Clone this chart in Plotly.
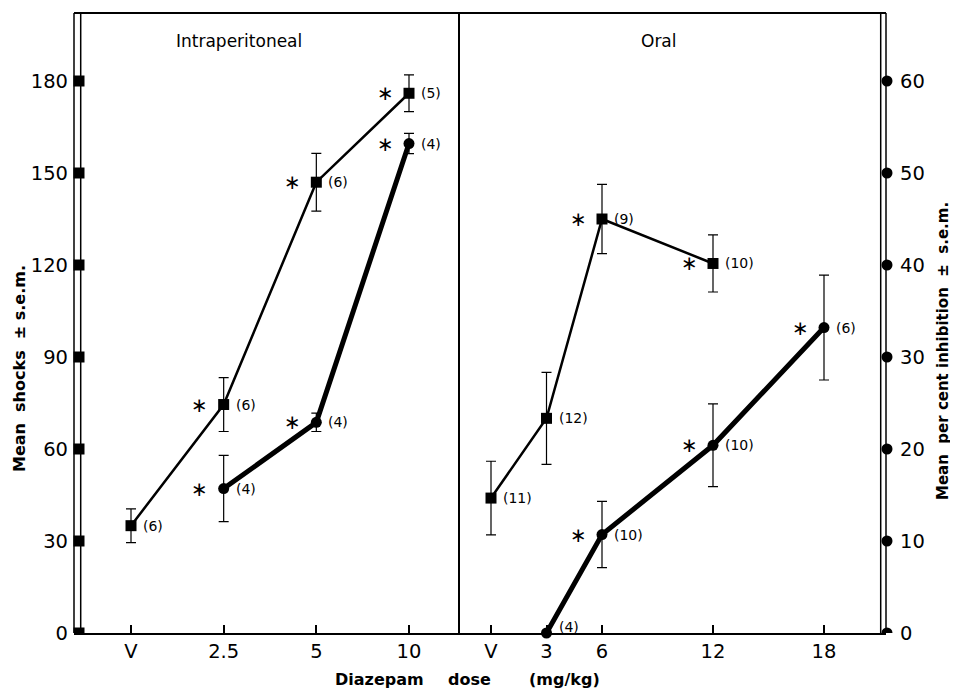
import plotly.graph_objects as go

# ---------------- data ----------------
# Intraperitoneal panel (equally spaced dose categories)
ip_doses = ["V", "2.5", "5", "10"]

ip_shock_doses = ["V", "2.5", "5", "10"]
ip_shock_mean = [35, 74.5, 147, 176]
ip_shock_sem = [5.5, 8.8, 9.4, 6]
ip_shock_n = ["(6)", "(6)", "(6)", "(5)"]
ip_shock_sig = [False, True, True, True]

ip_inhib_doses = ["2.5", "5", "10"]
ip_inhib_mean = [15.7, 22.9, 53.2]
ip_inhib_sem = [3.6, 1.0, 1.1]
ip_inhib_n = ["(4)", "(4)", "(4)"]
ip_inhib_sig = [True, True, True]

# Oral panel (linear dose scale, V = vehicle at 0)
oral_tick_vals = [0, 3, 6, 12, 18]
oral_tick_text = ["V", "3", "6", "12", "18"]

oral_shock_doses = [0, 3, 6, 12]
oral_shock_mean = [44, 70, 135, 120.5]
oral_shock_sem = [12, 15, 11.3, 9.3]
oral_shock_n = ["(11)", "(12)", "(9)", "(10)"]
oral_shock_sig = [False, False, True, True]

oral_inhib_doses = [3, 6, 12, 18]
oral_inhib_mean = [0, 10.7, 20.4, 33.2]
oral_inhib_sem = [0, 3.6, 4.5, 5.7]
oral_inhib_n = ["(4)", "(10)", "(10)", "(6)"]
oral_inhib_sig = [False, True, True, True]

shock_ticks = [0, 30, 60, 90, 120, 150, 180]
inhib_ticks = [0, 10, 20, 30, 40, 50, 60]

# ---------------- styling / layout geometry ----------------
FONT = "DejaVu Sans"
BLACK = "black"
OFF = 8                      # page body margin offset
W, H = 950, 683
# plot area in screenshot pixels: left 74, right 886, top 13, bottom 633
ML = 74 - OFF
MT = 13 - OFF
MR = W - (886 - OFF)
MB = H - (633 - OFF)
pw, ph = W - ML - MR, H - MT - MB


def px(x):
    return (x - OFF - ML) / pw


def py(y):
    return (H - MB - (y - OFF)) / ph


split = px(459)
ip_pos = {d: i for i, d in enumerate(ip_doses)}

fig = go.Figure()


def err(arr):
    return dict(type="data", array=arr, visible=True, color=BLACK, thickness=1.2, width=5)


fig.add_trace(go.Scatter(
    x=[ip_pos[d] for d in ip_shock_doses], y=ip_shock_mean, error_y=err(ip_shock_sem),
    mode="lines+markers", line=dict(color=BLACK, width=2.5),
    marker=dict(symbol="square", size=11, color=BLACK),
    xaxis="x", yaxis="y", showlegend=False, cliponaxis=False))
fig.add_trace(go.Scatter(
    x=[ip_pos[d] for d in ip_inhib_doses], y=ip_inhib_mean, error_y=err(ip_inhib_sem),
    mode="lines+markers", line=dict(color=BLACK, width=5),
    marker=dict(symbol="circle", size=11, color=BLACK),
    xaxis="x", yaxis="y2", showlegend=False, cliponaxis=False))
fig.add_trace(go.Scatter(
    x=oral_shock_doses, y=oral_shock_mean, error_y=err(oral_shock_sem),
    mode="lines+markers", line=dict(color=BLACK, width=2.5),
    marker=dict(symbol="square", size=11, color=BLACK),
    xaxis="x2", yaxis="y", showlegend=False, cliponaxis=False))
fig.add_trace(go.Scatter(
    x=oral_inhib_doses, y=oral_inhib_mean,
    error_y=err([s if s > 0 else None for s in oral_inhib_sem]),
    mode="lines+markers", line=dict(color=BLACK, width=5),
    marker=dict(symbol="circle", size=11, color=BLACK),
    xaxis="x2", yaxis="y2", showlegend=False, cliponaxis=False))

annotations = []


def label_points(xs, ys, ns, sigs, xref, yref):
    for x, y, n, s in zip(xs, ys, ns, sigs):
        yshift = 6 if y == 0 else 0
        annotations.append(dict(x=x, y=y, xref=xref, yref=yref, text=n, showarrow=False,
                                xanchor="left", xshift=10, yshift=yshift,
                                font=dict(family=FONT, size=14, color=BLACK)))
        if s:
            annotations.append(dict(x=x, y=y, xref=xref, yref=yref, text="∗", showarrow=False,
                                    xanchor="center", xshift=-24, yshift=0,
                                    font=dict(family=FONT, size=20, color=BLACK)))


label_points([ip_pos[d] for d in ip_shock_doses], ip_shock_mean, ip_shock_n, ip_shock_sig, "x", "y")
label_points([ip_pos[d] for d in ip_inhib_doses], ip_inhib_mean, ip_inhib_n, ip_inhib_sig, "x", "y2")
label_points(oral_shock_doses, oral_shock_mean, oral_shock_n, oral_shock_sig, "x2", "y")
label_points(oral_inhib_doses, oral_inhib_mean, oral_inhib_n, oral_inhib_sig, "x2", "y2")

# panel titles
annotations.append(dict(x=px(239), y=py(41), xref="paper", yref="paper",
                        text="Intraperitoneal", showarrow=False, xanchor="center", yanchor="middle",
                        font=dict(family=FONT, size=17, color=BLACK)))
annotations.append(dict(x=px(659), y=py(41), xref="paper", yref="paper",
                        text="Oral", showarrow=False, xanchor="center", yanchor="middle",
                        font=dict(family=FONT, size=17, color=BLACK)))
# axis titles
NB = "\u00a0"
annotations.append(dict(x=px(19), y=py(369), xref="paper", yref="paper",
                        text=f"<b>Mean{NB}{NB}shocks{NB}{NB}±{NB}s.e.m.</b>", textangle=-90, showarrow=False,
                        xanchor="center", yanchor="middle", font=dict(family=FONT, size=16, color=BLACK)))
annotations.append(dict(x=px(943), y=py(351), xref="paper", yref="paper",
                        text=f"<b>Mean{NB}{NB}per{NB}cent{NB}inhibition{NB}{NB}±{NB}{NB}s.e.m.</b>", textangle=-90,
                        showarrow=False, xanchor="center", yanchor="middle",
                        font=dict(family=FONT, size=15, color=BLACK)))
for txt, cx in [("Diazepam", 379), ("dose", 469), ("(mg/kg)", 564)]:
    annotations.append(dict(x=px(cx), y=py(680), xref="paper", yref="paper",
                            text=f"<b>{txt}</b>", showarrow=False, xanchor="center", yanchor="middle",
                            font=dict(family=FONT, size=16, color=BLACK)))

shapes = []
# frame: top border, panel divider, double vertical axis lines
shapes.append(dict(type="line", xref="paper", yref="paper", x0=0, x1=1, y0=1, y1=1,
                   line=dict(color=BLACK, width=2)))
shapes.append(dict(type="line", xref="paper", yref="paper", x0=split, x1=split, y0=0, y1=1,
                   line=dict(color=BLACK, width=2)))
for xp in [px(74), px(80.7), px(880.7), px(886)]:
    shapes.append(dict(type="line", xref="paper", yref="paper", x0=xp, x1=xp, y0=0, y1=1,
                       line=dict(color=BLACK, width=1.5)))
# axis tick symbols: squares on left (shocks), circles on right (inhibition)
for v in shock_ticks:
    shapes.append(dict(type="rect", xref="paper", yref="y", xsizemode="pixel", ysizemode="pixel",
                       xanchor=px(79), yanchor=v, x0=-5.5, x1=5.5, y0=-5.5, y1=5.5,
                       fillcolor=BLACK, line=dict(width=0)))
for v in inhib_ticks:
    shapes.append(dict(type="circle", xref="paper", yref="y2", xsizemode="pixel", ysizemode="pixel",
                       xanchor=px(887), yanchor=v, x0=-5.5, x1=5.5, y0=-5.5, y1=5.5,
                       fillcolor=BLACK, line=dict(width=0)))

ip_step = (409 - 131) / 3
xr_ip = [(74 - 131) / ip_step, (459 - 131) / ip_step]
or_step = 18.5
xr_or = [(459 - 491) / or_step, (886 - 491) / or_step]
shock_px = (633 - 81) / 180
yr = [0, ph / shock_px]

tickfont = dict(family=FONT, size=19.5, color=BLACK)
xcommon = dict(showline=True, linecolor=BLACK, linewidth=2, ticks="inside", ticklen=8, tickwidth=1.5,
               tickcolor=BLACK, showgrid=False, zeroline=False, tickfont=tickfont, anchor="y",
               ticklabelstandoff=0)

fig.update_layout(
    width=W, height=H,
    margin=dict(l=ML, r=MR, t=MT, b=MB, autoexpand=False),
    paper_bgcolor="white", plot_bgcolor="white",
    xaxis=dict(domain=[0, split], range=xr_ip, tickvals=list(range(len(ip_doses))), ticktext=ip_doses, **xcommon),
    xaxis2=dict(domain=[split, 1], range=xr_or, tickvals=oral_tick_vals, ticktext=oral_tick_text, **xcommon),
    yaxis=dict(range=yr, tickvals=shock_ticks, showgrid=False, zeroline=False, showline=False, ticks="",
               tickfont=tickfont, anchor="x", side="left", ticklabelstandoff=5),
    yaxis2=dict(range=[0, yr[1] / 3], tickvals=inhib_ticks, showgrid=False, zeroline=False, showline=False,
                ticks="", tickfont=tickfont, anchor="x2", side="right", overlaying="y", ticklabelstandoff=13),
    annotations=annotations, shapes=shapes,
    font=dict(family=FONT, color=BLACK),
)

fig.write_html("out.html")
